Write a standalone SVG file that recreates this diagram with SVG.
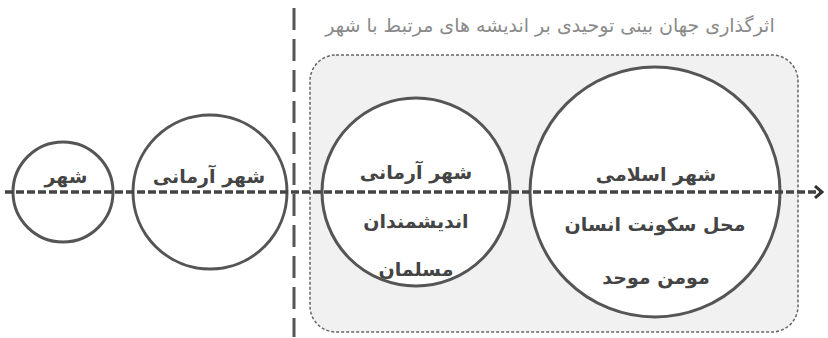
<svg xmlns="http://www.w3.org/2000/svg" width="828" height="338" viewBox="0 0 828 338">
<style>
.node circle{fill:#fff;stroke:#555;stroke-width:3}
.t{font-family:"DejaVu Sans",sans-serif;font-size:19px;font-weight:bold;fill:#444;text-anchor:middle;direction:rtl}
.title{font-family:"DejaVu Sans",sans-serif;font-size:19px;fill:#8a8a8a;text-anchor:middle;direction:rtl}
</style>
<defs>
<marker id="arr" markerWidth="10" markerHeight="14" refX="8" refY="7" orient="auto" markerUnits="userSpaceOnUse">
<path d="M1,1 L8,7 L1,13" fill="none" stroke="#333" stroke-width="3"/>
</marker>
</defs>
<rect width="828" height="338" fill="#fff"/>
<g id="frame">
<rect x="310" y="55" width="488" height="277" rx="26" ry="26" fill="#f1f1f1" stroke="#666" stroke-width="1.5" stroke-dasharray="3,2"/>
<text class="title" x="550" y="32">اثرگذاری جهان بینی توحیدی بر اندیشه های مرتبط با شهر</text>
</g>
<g id="node-city" class="node">
<circle cx="63" cy="192" r="50"/>
<text class="t" x="66" y="183">شهر</text>
</g>
<g id="node-ideal" class="node">
<circle cx="210" cy="192" r="77"/>
<text class="t" x="209" y="183">شهر آرمانی</text>
</g>
<g id="node-muslim-ideal" class="node">
<circle cx="416" cy="192" r="94"/>
<text class="t" x="416" y="179">شهر آرمانی</text>
<text class="t" x="416" y="228">اندیشمندان</text>
<text class="t" x="416" y="276">مسلمان</text>
</g>
<g id="node-islamic" class="node">
<circle cx="655" cy="192" r="125"/>
<text class="t" x="656" y="181">شهر اسلامی</text>
<text class="t" x="655" y="231">محل سکونت انسان</text>
<text class="t" x="656" y="284">مومن موحد</text>
</g>
<g id="connectors">
<line x1="294" y1="8" x2="294" y2="337" stroke="#555" stroke-width="3" stroke-dasharray="22,9"/>
<line x1="5" y1="192" x2="822" y2="192" stroke="#444" stroke-width="3.5" stroke-dasharray="8,3" marker-end="url(#arr)"/>
</g>
</svg>
